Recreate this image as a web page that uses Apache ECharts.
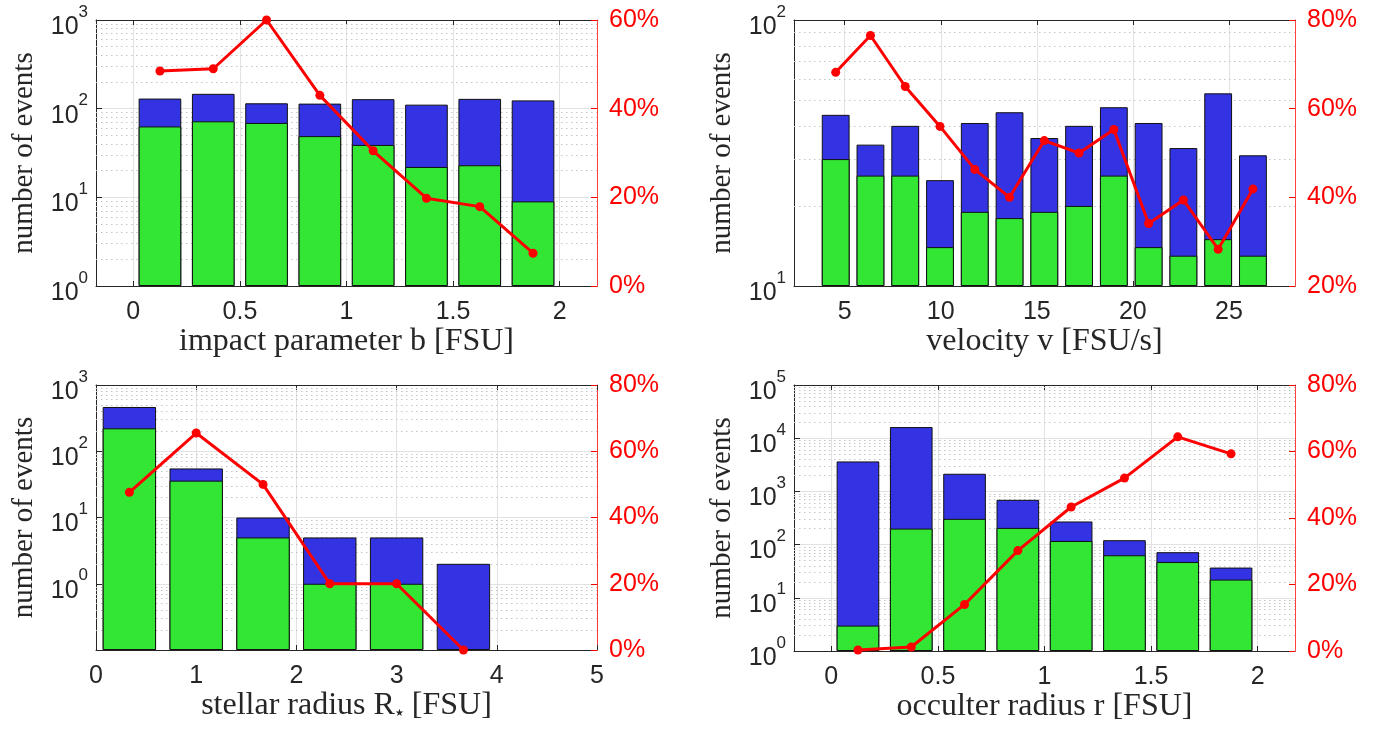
<!DOCTYPE html>
<html><head><meta charset="utf-8">
<script src="https://cdn.jsdelivr.net/npm/echarts@6/dist/echarts.min.js"></script>
<style>html,body{margin:0;padding:0;background:#fff}#c{width:1381px;height:729px}</style>
</head><body><div id="c"></div>
<script>
// ---- data ----
const bCenters = [0.125, 0.375, 0.625, 0.875, 1.125, 1.375, 1.625, 1.875];
const bTotal = [130, 147, 115, 114, 128, 111, 129, 124];
const bDetected = [63, 72, 69, 49, 39, 22, 23, 9];
const bPct = [48.5, 49.0, 60.0, 43.0, 30.5, 19.8, 17.9, 7.4];

const vCenters = [4.53, 6.34, 8.15, 9.96, 11.77, 13.58, 15.39, 17.2, 19.01, 20.82, 22.63, 24.44, 26.25];
const vTotal = [44, 34, 40, 25, 41, 45, 36, 40, 47, 41, 33, 53, 31];
const vDetected = [30, 26, 26, 14, 19, 18, 19, 20, 26, 14, 13, 15, 13];
const vPct = [68.2, 76.5, 65.0, 56.0, 46.3, 40.0, 52.8, 50.0, 55.3, 34.1, 39.4, 28.3, 41.9];

const RCenters = [0.333, 1.0, 1.667, 2.333, 3.0, 3.667];
const RTotal = [466, 55, 10, 5, 5, 2];
const RDetected = [222, 36, 5, 1, 1, null];
const RPct = [47.6, 65.5, 50.0, 20.0, 20.0, 0.0];

const rCenters = [0.125, 0.375, 0.625, 0.875, 1.125, 1.375, 1.625, 1.875];
const rTotal = [3660, 16200, 2145, 695, 272, 121, 72, 37];
const rDetected = [3, 200, 305, 206, 117, 63, 47, 22];
const rPct = [0.3, 1.2, 14.0, 30.2, 43.3, 52.0, 64.4, 59.3];

// tick labels
const bTicks = [0, 0.5, 1, 1.5, 2];
const vTicks = [5, 10, 15, 20, 25];
const RTicks = [0, 1, 2, 3, 4, 5];
const rTicks = [0, 0.5, 1, 1.5, 2];

// ---- styling ----
const AX = '#262626';
const SANS = 'Liberation Sans';
const SERIF = 'Liberation Serif, DejaVu Serif';
const BLUE = '#3333e3';
const GREEN = '#33e633';
const RED = '#ff0000';

function minorValues(lo, hi) {
  const out = [];
  for (let k = Math.floor(Math.log10(lo)); k < Math.ceil(Math.log10(hi)); k++) {
    for (let m = 2; m <= 9; m++) {
      const v = m * Math.pow(10, k);
      if (v > lo && v < hi) out.push(v);
    }
  }
  return out;
}

const panels = [
  {grid: {left: 96, top: 20, width: 501, height: 266}, xr: [-0.175, 2.175], xt: bTicks,
   yr: [1, 1000], pr: [0, 60], name: 'impact parameter b [FSU]',
   c: bCenters, t: bTotal, d: bDetected, p: bPct},
  {grid: {left: 794, top: 20, width: 501, height: 266}, xr: [2.36, 28.44], xt: vTicks,
   yr: [10, 100], pr: [20, 80], name: 'velocity v [FSU/s]',
   c: vCenters, t: vTotal, d: vDetected, p: vPct},
  {grid: {left: 96, top: 385, width: 501, height: 265}, xr: [0, 5], xt: RTicks,
   yr: [0.1, 1000], pr: [0, 80], name: '{n|stellar radius R}{s|★}{n| [FSU]}',
   c: RCenters, t: RTotal, d: RDetected, p: RPct},
  {grid: {left: 794, top: 385, width: 501, height: 266}, xr: [-0.175, 2.175], xt: rTicks,
   yr: [1, 100000], pr: [0, 80], name: 'occulter radius r [FSU]',
   c: rCenters, t: rTotal, d: rDetected, p: rPct}
];

const option = {animation: false, backgroundColor: '#fff', grid: [], xAxis: [], yAxis: [], series: []};

panels.forEach((P, i) => {
  option.grid.push(Object.assign({containLabel: false}, P.grid));
  const nameRich = {
    n: {fontFamily: SERIF, fontSize: 32, color: AX},
    s: {fontFamily: 'DejaVu Sans', fontSize: 10, color: AX, padding: [16, 0, 0, 0]}
  };
  option.xAxis.push({
    type: 'value', gridIndex: i, min: P.xr[0], max: P.xr[1], position: 'bottom',
    name: P.name, nameLocation: 'middle', nameGap: 33,
    nameTextStyle: {fontFamily: SERIF, fontSize: 32, color: AX, rich: nameRich},
    axisLine: {show: true, onZero: false, lineStyle: {color: AX, width: 1}},
    axisTick: {show: true, inside: true, length: 5, lineStyle: {color: AX}, customValues: P.xt},
    axisLabel: {fontFamily: SANS, fontSize: 25, color: AX, margin: 14, customValues: P.xt},
    splitLine: {show: true, lineStyle: {color: '#e2e2e2', width: 1}}
  });
  option.xAxis.push({
    type: 'value', gridIndex: i, min: P.xr[0], max: P.xr[1], position: 'top',
    axisLine: {show: true, onZero: false, lineStyle: {color: AX, width: 1}},
    axisTick: {show: true, inside: true, length: 5, lineStyle: {color: AX}, customValues: P.xt},
    axisLabel: {show: false, customValues: P.xt},
    splitLine: {show: false}
  });
  option.yAxis.push({
    type: 'log', logBase: 10, gridIndex: i, min: P.yr[0], max: P.yr[1], startValue: P.yr[0],
    position: 'left',
    name: 'number of events', nameLocation: 'middle', nameGap: 57, nameRotate: 90,
    nameTextStyle: {fontFamily: SERIF, fontSize: 29, color: AX},
    axisLine: {show: true, onZero: false, lineStyle: {color: AX, width: 1}},
    axisTick: {show: true, inside: true, length: 6, lineStyle: {color: AX}},
    axisLabel: {
      margin: 8, color: AX,
      formatter: v => (v < 0.99 ? '' : '{b|10}{e|' + Math.round(Math.log10(v)) + '}'),
      rich: {
        b: {fontFamily: SANS, fontSize: 25, color: AX, lineHeight: 24, padding: [14, 0, 0, 0]},
        e: {fontFamily: SANS, fontSize: 17, color: AX, lineHeight: 18, padding: [2, 0, 18, 0]}
      }
    },
    splitLine: {show: true, lineStyle: {color: '#e2e2e2', width: 1}}
  });
  option.yAxis.push({
    type: 'value', gridIndex: i, min: P.pr[0], max: P.pr[1], interval: 20, position: 'right',
    axisLine: {show: true, onZero: false, lineStyle: {color: 'rgba(255,0,0,0.75)', width: 1}},
    axisTick: {show: true, inside: true, length: 6, lineStyle: {color: RED}},
    axisLabel: {fontFamily: SANS, fontSize: 25, color: RED, margin: 12, formatter: '{value}%'},
    splitLine: {show: false}
  });
  const xi = 2 * i, yl = 2 * i, yr = 2 * i + 1;
  option.series.push({
    type: 'bar', xAxisIndex: xi, yAxisIndex: yl, barWidth: '80%', barGap: '-100%',
    data: P.c.map((x, k) => [x, P.t[k]]),
    itemStyle: {color: BLUE, borderColor: '#111', borderWidth: 1},
    z: 2,
    markLine: {
      silent: true, symbol: ['none', 'none'], z: 1, animation: false,
      label: {show: false},
      lineStyle: {type: [1.5, 3.5], color: '#c4c4c4', width: 1},
      data: minorValues(P.yr[0], P.yr[1]).map(v => ({yAxis: v}))
    }
  });
  option.series.push({
    type: 'bar', xAxisIndex: xi, yAxisIndex: yl, barWidth: '80%', barGap: '-100%',
    data: P.c.map((x, k) => [x, P.d[k]]),
    itemStyle: {color: GREEN, borderColor: '#111', borderWidth: 1},
    z: 3
  });
  option.series.push({
    type: 'line', xAxisIndex: xi, yAxisIndex: yr,
    data: P.c.map((x, k) => [x, P.p[k]]),
    symbol: 'circle', symbolSize: 9, clip: false,
    lineStyle: {color: RED, width: 3}, itemStyle: {color: RED},
    z: 5
  });
});

const chart = echarts.init(document.getElementById('c'), null, {renderer: 'canvas'});
chart.setOption(option);
</script></body></html>
